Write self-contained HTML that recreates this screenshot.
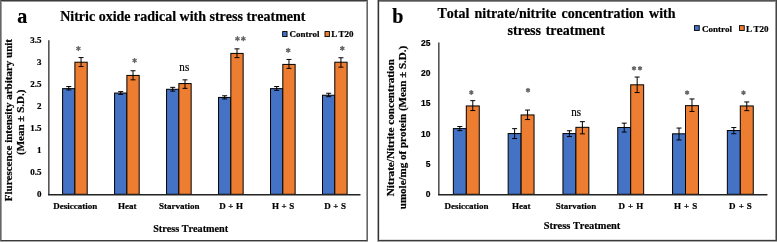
<!DOCTYPE html>
<html><head><meta charset="utf-8"><style>html,body{margin:0;padding:0;background:#fff;width:777px;height:242px;overflow:hidden}svg{display:block;will-change:transform}text{font-kerning:none;stroke:#000;stroke-width:0.2px}</style></head>
<body><svg width="777" height="242" viewBox="0 0 777 242"><rect width="777" height="242" fill="#fff"/><rect x="0" y="0" width="368" height="1" fill="#3c3c3c" shape-rendering="crispEdges"/><rect x="0" y="1" width="368" height="1" fill="#999" shape-rendering="crispEdges"/><rect x="0" y="240" width="368" height="1" fill="#3a3a3a" shape-rendering="crispEdges"/><rect x="0" y="241" width="368" height="1" fill="#a8a8a8" shape-rendering="crispEdges"/><rect x="0" y="0" width="1" height="241" fill="#666" shape-rendering="crispEdges"/><rect x="1" y="2" width="1" height="238" fill="#a0a0a0" shape-rendering="crispEdges"/><rect x="367" y="0" width="1" height="241" fill="#666" shape-rendering="crispEdges"/><rect x="366" y="2" width="1" height="238" fill="#a0a0a0" shape-rendering="crispEdges"/><rect x="62.60" y="88.63" width="12.3" height="105.67" fill="#4472C4" stroke="#000" stroke-width="1"/><rect x="74.90" y="62.21" width="12.3" height="132.09" fill="#ED7D31" stroke="#000" stroke-width="1"/><g stroke="#000" stroke-width="1"><line x1="68.75" y1="86.55" x2="68.75" y2="89.94999999999999"/><line x1="66.25" y1="86.55" x2="71.25" y2="86.55"/><line x1="66.25" y1="89.94999999999999" x2="71.25" y2="89.94999999999999"/></g><g stroke="#000" stroke-width="1"><line x1="81.05" y1="57.550000000000004" x2="81.05" y2="66.55"/><line x1="78.55" y1="57.550000000000004" x2="83.55" y2="57.550000000000004"/><line x1="78.55" y1="66.55" x2="83.55" y2="66.55"/></g><text x="75.20" y="209.2" font-size="9" font-weight="bold" fill="#000" font-family="'Liberation Serif', serif" text-anchor="middle" >Desiccation</text><rect x="114.58" y="93.03" width="12.3" height="101.27" fill="#4472C4" stroke="#000" stroke-width="1"/><rect x="126.88" y="75.42" width="12.3" height="118.88" fill="#ED7D31" stroke="#000" stroke-width="1"/><g stroke="#000" stroke-width="1"><line x1="120.73" y1="91.64999999999999" x2="120.73" y2="94.44999999999999"/><line x1="118.23" y1="91.64999999999999" x2="123.23" y2="91.64999999999999"/><line x1="118.23" y1="94.44999999999999" x2="123.23" y2="94.44999999999999"/></g><g stroke="#000" stroke-width="1"><line x1="133.03" y1="70.75" x2="133.03" y2="79.85"/><line x1="130.53" y1="70.75" x2="135.53" y2="70.75"/><line x1="130.53" y1="79.85" x2="135.53" y2="79.85"/></g><text x="127.18" y="209.2" font-size="9" font-weight="bold" fill="#000" font-family="'Liberation Serif', serif" text-anchor="middle" >Heat</text><rect x="166.56" y="89.29" width="12.3" height="105.01" fill="#4472C4" stroke="#000" stroke-width="1"/><rect x="178.86" y="83.57" width="12.3" height="110.73" fill="#ED7D31" stroke="#000" stroke-width="1"/><g stroke="#000" stroke-width="1"><line x1="172.71" y1="87.35" x2="172.71" y2="91.14999999999999"/><line x1="170.21" y1="87.35" x2="175.21" y2="87.35"/><line x1="170.21" y1="91.14999999999999" x2="175.21" y2="91.14999999999999"/></g><g stroke="#000" stroke-width="1"><line x1="185.01" y1="79.85" x2="185.01" y2="88.35"/><line x1="182.51" y1="79.85" x2="187.51" y2="79.85"/><line x1="182.51" y1="88.35" x2="187.51" y2="88.35"/></g><text x="179.16" y="209.2" font-size="9" font-weight="bold" fill="#000" font-family="'Liberation Serif', serif" text-anchor="middle" >Starvation</text><rect x="218.54" y="97.44" width="12.3" height="96.86" fill="#4472C4" stroke="#000" stroke-width="1"/><rect x="230.84" y="53.41" width="12.3" height="140.89" fill="#ED7D31" stroke="#000" stroke-width="1"/><g stroke="#000" stroke-width="1"><line x1="224.69" y1="95.75" x2="224.69" y2="98.94999999999999"/><line x1="222.19" y1="95.75" x2="227.19" y2="95.75"/><line x1="222.19" y1="98.94999999999999" x2="227.19" y2="98.94999999999999"/></g><g stroke="#000" stroke-width="1"><line x1="236.99" y1="48.85" x2="236.99" y2="57.65"/><line x1="234.49" y1="48.85" x2="239.49" y2="48.85"/><line x1="234.49" y1="57.65" x2="239.49" y2="57.65"/></g><text x="231.14" y="209.2" font-size="9" font-weight="bold" fill="#000" font-family="'Liberation Serif', serif" text-anchor="middle" word-spacing="0.4">D + H</text><rect x="270.52" y="88.63" width="12.3" height="105.67" fill="#4472C4" stroke="#000" stroke-width="1"/><rect x="282.82" y="64.42" width="12.3" height="129.88" fill="#ED7D31" stroke="#000" stroke-width="1"/><g stroke="#000" stroke-width="1"><line x1="276.67" y1="86.55" x2="276.67" y2="90.35"/><line x1="274.17" y1="86.55" x2="279.17" y2="86.55"/><line x1="274.17" y1="90.35" x2="279.17" y2="90.35"/></g><g stroke="#000" stroke-width="1"><line x1="288.97" y1="59.45" x2="288.97" y2="68.35"/><line x1="286.47" y1="59.45" x2="291.47" y2="59.45"/><line x1="286.47" y1="68.35" x2="291.47" y2="68.35"/></g><text x="283.12" y="209.2" font-size="9" font-weight="bold" fill="#000" font-family="'Liberation Serif', serif" text-anchor="middle" word-spacing="0.4">H + S</text><rect x="322.50" y="95.24" width="12.3" height="99.06" fill="#4472C4" stroke="#000" stroke-width="1"/><rect x="334.80" y="62.21" width="12.3" height="132.09" fill="#ED7D31" stroke="#000" stroke-width="1"/><g stroke="#000" stroke-width="1"><line x1="328.65" y1="93.25" x2="328.65" y2="96.64999999999999"/><line x1="326.15" y1="93.25" x2="331.15" y2="93.25"/><line x1="326.15" y1="96.64999999999999" x2="331.15" y2="96.64999999999999"/></g><g stroke="#000" stroke-width="1"><line x1="340.95" y1="57.75" x2="340.95" y2="67.14999999999999"/><line x1="338.45" y1="57.75" x2="343.45" y2="57.75"/><line x1="338.45" y1="67.14999999999999" x2="343.45" y2="67.14999999999999"/></g><text x="335.10" y="209.2" font-size="9" font-weight="bold" fill="#000" font-family="'Liberation Serif', serif" text-anchor="middle" word-spacing="0.4">D + S</text><rect x="48" y="40.2" width="1.6" height="154.10000000000002" fill="#555"/><rect x="48" y="194" width="312.5" height="1.5" fill="#222"/><text x="41.6" y="197.30" font-size="9" font-weight="bold" fill="#000" font-family="'Liberation Serif', serif" text-anchor="end" >0</text><text x="41.6" y="175.29" font-size="9" font-weight="bold" fill="#000" font-family="'Liberation Serif', serif" text-anchor="end" >0.5</text><text x="41.6" y="153.27" font-size="9" font-weight="bold" fill="#000" font-family="'Liberation Serif', serif" text-anchor="end" >1</text><text x="41.6" y="131.26" font-size="9" font-weight="bold" fill="#000" font-family="'Liberation Serif', serif" text-anchor="end" >1.5</text><text x="41.6" y="109.24" font-size="9" font-weight="bold" fill="#000" font-family="'Liberation Serif', serif" text-anchor="end" >2</text><text x="41.6" y="87.23" font-size="9" font-weight="bold" fill="#000" font-family="'Liberation Serif', serif" text-anchor="end" >2.5</text><text x="41.6" y="65.21" font-size="9" font-weight="bold" fill="#000" font-family="'Liberation Serif', serif" text-anchor="end" >3</text><text x="41.6" y="43.20" font-size="9" font-weight="bold" fill="#000" font-family="'Liberation Serif', serif" text-anchor="end" >3.5</text><g transform="translate(78.40,48.50)" stroke="#666" stroke-width="1.35" stroke-linecap="round"><line x1="0" y1="-1.95" x2="0" y2="1.95"/><line x1="-1.69" y1="-0.97" x2="1.69" y2="0.97"/><line x1="-1.69" y1="0.97" x2="1.69" y2="-0.97"/></g><g transform="translate(134.60,60.50)" stroke="#666" stroke-width="1.35" stroke-linecap="round"><line x1="0" y1="-1.95" x2="0" y2="1.95"/><line x1="-1.69" y1="-0.97" x2="1.69" y2="0.97"/><line x1="-1.69" y1="0.97" x2="1.69" y2="-0.97"/></g><text transform="translate(184.3,71.1) scale(0.86,1)" font-size="12.9" fill="#000" stroke="#000" stroke-width="0.3" font-family="'Liberation Serif', serif" text-anchor="middle">ns</text><g transform="translate(237.45,38.70)" stroke="#666" stroke-width="1.35" stroke-linecap="round"><line x1="0" y1="-1.95" x2="0" y2="1.95"/><line x1="-1.69" y1="-0.97" x2="1.69" y2="0.97"/><line x1="-1.69" y1="0.97" x2="1.69" y2="-0.97"/></g><g transform="translate(243.35,38.70)" stroke="#666" stroke-width="1.35" stroke-linecap="round"><line x1="0" y1="-1.95" x2="0" y2="1.95"/><line x1="-1.69" y1="-0.97" x2="1.69" y2="0.97"/><line x1="-1.69" y1="0.97" x2="1.69" y2="-0.97"/></g><g transform="translate(288.20,50.40)" stroke="#666" stroke-width="1.35" stroke-linecap="round"><line x1="0" y1="-1.95" x2="0" y2="1.95"/><line x1="-1.69" y1="-0.97" x2="1.69" y2="0.97"/><line x1="-1.69" y1="0.97" x2="1.69" y2="-0.97"/></g><g transform="translate(342.30,48.40)" stroke="#666" stroke-width="1.35" stroke-linecap="round"><line x1="0" y1="-1.95" x2="0" y2="1.95"/><line x1="-1.69" y1="-0.97" x2="1.69" y2="0.97"/><line x1="-1.69" y1="0.97" x2="1.69" y2="-0.97"/></g><rect x="378" y="0" width="399" height="1" fill="#555" shape-rendering="crispEdges"/><rect x="378" y="1" width="399" height="1" fill="#888" shape-rendering="crispEdges"/><rect x="378" y="240" width="399" height="1" fill="#3a3a3a" shape-rendering="crispEdges"/><rect x="378" y="241" width="399" height="1" fill="#aaa" shape-rendering="crispEdges"/><rect x="378" y="239" width="399" height="1" fill="#e0e0e0" shape-rendering="crispEdges"/><rect x="378" y="0" width="1" height="241" fill="#333" shape-rendering="crispEdges"/><rect x="377" y="0" width="1" height="242" fill="#aaa" shape-rendering="crispEdges"/><rect x="379" y="2" width="1" height="237" fill="#ddd" shape-rendering="crispEdges"/><rect x="776" y="0" width="1" height="241" fill="#444" shape-rendering="crispEdges"/><rect x="775" y="2" width="1" height="238" fill="#999" shape-rendering="crispEdges"/><rect x="453.35" y="128.60" width="12.95" height="65.70" fill="#4472C4" stroke="#000" stroke-width="1"/><rect x="466.30" y="105.95" width="12.95" height="88.35" fill="#ED7D31" stroke="#000" stroke-width="1"/><g stroke="#000" stroke-width="1"><line x1="459.82" y1="126.55" x2="459.82" y2="130.65"/><line x1="457.32" y1="126.55" x2="462.32" y2="126.55"/><line x1="457.32" y1="130.65" x2="462.32" y2="130.65"/></g><g stroke="#000" stroke-width="1"><line x1="472.77" y1="100.64999999999999" x2="472.77" y2="110.55"/><line x1="470.27" y1="100.64999999999999" x2="475.27" y2="100.64999999999999"/><line x1="470.27" y1="110.55" x2="475.27" y2="110.55"/></g><text x="466.45" y="209.2" font-size="9" font-weight="bold" fill="#000" font-family="'Liberation Serif', serif" text-anchor="middle" >Desiccation</text><rect x="508.15" y="133.58" width="12.95" height="60.72" fill="#4472C4" stroke="#000" stroke-width="1"/><rect x="521.10" y="114.94" width="12.95" height="79.36" fill="#ED7D31" stroke="#000" stroke-width="1"/><g stroke="#000" stroke-width="1"><line x1="514.62" y1="128.65" x2="514.62" y2="138.54999999999998"/><line x1="512.12" y1="128.65" x2="517.12" y2="128.65"/><line x1="512.12" y1="138.54999999999998" x2="517.12" y2="138.54999999999998"/></g><g stroke="#000" stroke-width="1"><line x1="527.57" y1="110.05" x2="527.57" y2="119.55"/><line x1="525.07" y1="110.05" x2="530.07" y2="110.05"/><line x1="525.07" y1="119.55" x2="530.07" y2="119.55"/></g><text x="521.25" y="209.2" font-size="9" font-weight="bold" fill="#000" font-family="'Liberation Serif', serif" text-anchor="middle" >Heat</text><rect x="562.95" y="133.58" width="12.95" height="60.72" fill="#4472C4" stroke="#000" stroke-width="1"/><rect x="575.90" y="127.33" width="12.95" height="66.97" fill="#ED7D31" stroke="#000" stroke-width="1"/><g stroke="#000" stroke-width="1"><line x1="569.42" y1="130.75" x2="569.42" y2="136.54999999999998"/><line x1="566.92" y1="130.75" x2="571.92" y2="130.75"/><line x1="566.92" y1="136.54999999999998" x2="571.92" y2="136.54999999999998"/></g><g stroke="#000" stroke-width="1"><line x1="582.38" y1="121.64999999999999" x2="582.38" y2="133.85"/><line x1="579.88" y1="121.64999999999999" x2="584.88" y2="121.64999999999999"/><line x1="579.88" y1="133.85" x2="584.88" y2="133.85"/></g><text x="576.05" y="209.2" font-size="9" font-weight="bold" fill="#000" font-family="'Liberation Serif', serif" text-anchor="middle" >Starvation</text><rect x="617.75" y="127.51" width="12.95" height="66.79" fill="#4472C4" stroke="#000" stroke-width="1"/><rect x="630.70" y="84.82" width="12.95" height="109.48" fill="#ED7D31" stroke="#000" stroke-width="1"/><g stroke="#000" stroke-width="1"><line x1="624.22" y1="123.14999999999999" x2="624.22" y2="132.04999999999998"/><line x1="621.72" y1="123.14999999999999" x2="626.72" y2="123.14999999999999"/><line x1="621.72" y1="132.04999999999998" x2="626.72" y2="132.04999999999998"/></g><g stroke="#000" stroke-width="1"><line x1="637.17" y1="77.05" x2="637.17" y2="92.55"/><line x1="634.67" y1="77.05" x2="639.67" y2="77.05"/><line x1="634.67" y1="92.55" x2="639.67" y2="92.55"/></g><text x="630.85" y="209.2" font-size="9" font-weight="bold" fill="#000" font-family="'Liberation Serif', serif" text-anchor="middle" word-spacing="0.8">D + H</text><rect x="672.55" y="133.82" width="12.95" height="60.48" fill="#4472C4" stroke="#000" stroke-width="1"/><rect x="685.50" y="105.65" width="12.95" height="88.65" fill="#ED7D31" stroke="#000" stroke-width="1"/><g stroke="#000" stroke-width="1"><line x1="679.02" y1="128.05" x2="679.02" y2="139.95"/><line x1="676.52" y1="128.05" x2="681.52" y2="128.05"/><line x1="676.52" y1="139.95" x2="681.52" y2="139.95"/></g><g stroke="#000" stroke-width="1"><line x1="691.98" y1="98.94999999999999" x2="691.98" y2="111.44999999999999"/><line x1="689.48" y1="98.94999999999999" x2="694.48" y2="98.94999999999999"/><line x1="689.48" y1="111.44999999999999" x2="694.48" y2="111.44999999999999"/></g><text x="685.65" y="209.2" font-size="9" font-weight="bold" fill="#000" font-family="'Liberation Serif', serif" text-anchor="middle" word-spacing="0.8">H + S</text><rect x="727.35" y="130.54" width="12.95" height="63.76" fill="#4472C4" stroke="#000" stroke-width="1"/><rect x="740.30" y="105.95" width="12.95" height="88.35" fill="#ED7D31" stroke="#000" stroke-width="1"/><g stroke="#000" stroke-width="1"><line x1="733.82" y1="127.55" x2="733.82" y2="133.75"/><line x1="731.32" y1="127.55" x2="736.32" y2="127.55"/><line x1="731.32" y1="133.75" x2="736.32" y2="133.75"/></g><g stroke="#000" stroke-width="1"><line x1="746.77" y1="101.94999999999999" x2="746.77" y2="110.64999999999999"/><line x1="744.27" y1="101.94999999999999" x2="749.27" y2="101.94999999999999"/><line x1="744.27" y1="110.64999999999999" x2="749.27" y2="110.64999999999999"/></g><text x="740.45" y="209.2" font-size="9" font-weight="bold" fill="#000" font-family="'Liberation Serif', serif" text-anchor="middle" word-spacing="0.8">D + S</text><rect x="438" y="42.5" width="1.6" height="151.8" fill="#555"/><rect x="438" y="194" width="329.45000000000005" height="1.5" fill="#222"/><text x="430.4" y="197.30" font-size="8.5" font-weight="bold" fill="#000" font-family="'Liberation Sans', sans-serif" text-anchor="end" >0</text><text x="430.4" y="166.94" font-size="8.5" font-weight="bold" fill="#000" font-family="'Liberation Sans', sans-serif" text-anchor="end" >5</text><text x="430.4" y="136.58" font-size="8.5" font-weight="bold" fill="#000" font-family="'Liberation Sans', sans-serif" text-anchor="end" >10</text><text x="430.4" y="106.22" font-size="8.5" font-weight="bold" fill="#000" font-family="'Liberation Sans', sans-serif" text-anchor="end" >15</text><text x="430.4" y="75.86" font-size="8.5" font-weight="bold" fill="#000" font-family="'Liberation Sans', sans-serif" text-anchor="end" >20</text><text x="430.4" y="45.50" font-size="8.5" font-weight="bold" fill="#000" font-family="'Liberation Sans', sans-serif" text-anchor="end" >25</text><g transform="translate(471.30,92.50)" stroke="#666" stroke-width="1.55" stroke-linecap="round"><line x1="0" y1="-1.65" x2="0" y2="1.65"/><line x1="-1.43" y1="-0.82" x2="1.43" y2="0.82"/><line x1="-1.43" y1="0.82" x2="1.43" y2="-0.82"/></g><g transform="translate(528.00,90.25)" stroke="#666" stroke-width="1.55" stroke-linecap="round"><line x1="0" y1="-1.65" x2="0" y2="1.65"/><line x1="-1.43" y1="-0.82" x2="1.43" y2="0.82"/><line x1="-1.43" y1="0.82" x2="1.43" y2="-0.82"/></g><text transform="translate(576.1,115.7) scale(0.86,1)" font-size="12.9" fill="#000" stroke="#000" stroke-width="0.3" font-family="'Liberation Serif', serif" text-anchor="middle">ns</text><g transform="translate(634.00,68.35)" stroke="#666" stroke-width="1.55" stroke-linecap="round"><line x1="0" y1="-1.65" x2="0" y2="1.65"/><line x1="-1.43" y1="-0.82" x2="1.43" y2="0.82"/><line x1="-1.43" y1="0.82" x2="1.43" y2="-0.82"/></g><g transform="translate(640.00,68.35)" stroke="#666" stroke-width="1.55" stroke-linecap="round"><line x1="0" y1="-1.65" x2="0" y2="1.65"/><line x1="-1.43" y1="-0.82" x2="1.43" y2="0.82"/><line x1="-1.43" y1="0.82" x2="1.43" y2="-0.82"/></g><g transform="translate(687.10,92.60)" stroke="#666" stroke-width="1.55" stroke-linecap="round"><line x1="0" y1="-1.65" x2="0" y2="1.65"/><line x1="-1.43" y1="-0.82" x2="1.43" y2="0.82"/><line x1="-1.43" y1="0.82" x2="1.43" y2="-0.82"/></g><g transform="translate(743.50,92.70)" stroke="#666" stroke-width="1.55" stroke-linecap="round"><line x1="0" y1="-1.65" x2="0" y2="1.65"/><line x1="-1.43" y1="-0.82" x2="1.43" y2="0.82"/><line x1="-1.43" y1="0.82" x2="1.43" y2="-0.82"/></g><text x="17.2" y="22.6" font-size="20" font-weight="bold" fill="#000" font-family="'Liberation Serif', serif" text-anchor="start" >a</text><text x="60.2" y="21.2" font-size="14" font-weight="bold" fill="#000" font-family="'Liberation Serif', serif" text-anchor="start" >Nitric oxide radical with stress treatment</text><rect x="282.65" y="31.55" width="4.4" height="5.0" fill="#4472C4" stroke="#000" stroke-width="0.9"/><text x="289.4" y="37.1" font-size="9" font-weight="bold" fill="#000" font-family="'Liberation Serif', serif" text-anchor="start" >Control</text><rect x="325.0" y="31.55" width="4.4" height="5.0" fill="#ED7D31" stroke="#000" stroke-width="0.9"/><text x="331.2" y="37.1" font-size="9" font-weight="bold" fill="#000" font-family="'Liberation Serif', serif" text-anchor="start" >L<tspan dx="1.4">T20</tspan></text><text x="190.7" y="231.7" font-size="10.2" font-weight="bold" fill="#000" font-family="'Liberation Serif', serif" text-anchor="middle" >Stress Treatment</text><text transform="translate(11.8,120.1) rotate(-90)" font-size="11" font-weight="bold" font-family="'Liberation Serif', serif" text-anchor="middle">Flurescence intensity arbitary unit</text><text transform="translate(23.5,122.3) rotate(-90)" font-size="11" font-weight="bold" font-family="'Liberation Serif', serif" text-anchor="middle">(Mean ± S.D.)</text><text x="392.2" y="22.9" font-size="20" font-weight="bold" fill="#000" font-family="'Liberation Serif', serif" text-anchor="start" >b</text><text x="556.5" y="17.7" font-size="14" font-weight="bold" fill="#000" font-family="'Liberation Serif', serif" text-anchor="middle" word-spacing="1.75">Total nitrate/nitrite concentration with</text><text x="556.2" y="35.1" font-size="14" font-weight="bold" fill="#000" font-family="'Liberation Serif', serif" text-anchor="middle" word-spacing="1.2">stress treatment</text><rect x="694.45" y="25.65" width="4.8" height="4.8" fill="#4472C4" stroke="#000" stroke-width="0.9"/><text x="701.9" y="31.7" font-size="9" font-weight="bold" fill="#000" font-family="'Liberation Serif', serif" text-anchor="start" >Control</text><rect x="739.45" y="25.65" width="4.8" height="4.8" fill="#ED7D31" stroke="#000" stroke-width="0.9"/><text x="746.0" y="31.7" font-size="9" font-weight="bold" fill="#000" font-family="'Liberation Serif', serif" text-anchor="start" >L<tspan dx="1.4">T20</tspan></text><text x="582" y="229" font-size="10.4" font-weight="bold" fill="#000" font-family="'Liberation Serif', serif" text-anchor="middle" >Stress Treatment</text><text transform="translate(393.6,127.7) rotate(-90)" font-size="11.15" font-weight="bold" font-family="'Liberation Serif', serif" text-anchor="middle">Nitrate/Nitrite concentration</text><text transform="translate(405.6,127.5) rotate(-90)" font-size="11" font-weight="bold" font-family="'Liberation Serif', serif" text-anchor="middle">umole/mg of protein (Mean ± S.D.)</text></svg></body></html>
